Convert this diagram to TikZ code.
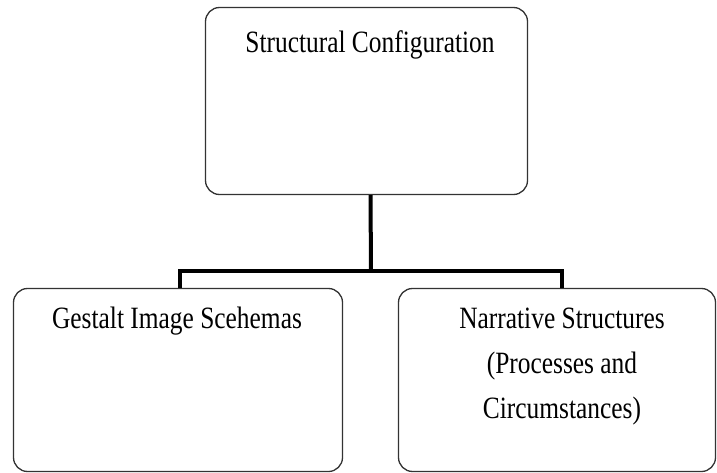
\documentclass[tikz,border=0pt]{standalone}
\usepackage{fontspec}
\setmainfont[FakeStretch=0.82]{Liberation Serif}
\begin{document}
\begin{tikzpicture}[x=1pt, y=-1pt,
    box/.style={draw=black!80, line width=1.3pt, rounded corners=14pt, minimum width=#1, inner sep=0pt},
    txt/.style={font=\fontsize{31}{45}\selectfont, align=center, anchor=base},
    conn/.style={line width=4pt, black}]
  \useasboundingbox (0,0) rectangle (717,473);
  % three boxes
  \node[box=322pt, minimum height=187pt] (cfg) at (366.5,101) {};
  \node[box=329pt, minimum height=183pt] (gest) at (178,380) {};
  \node[box=317pt, minimum height=183pt] (narr) at (557,380) {};
  % labels
  \node[txt] (cfgT) at (370,53) {Structural Configuration};
  \node[txt] (gestT) at (177,328) {Gestalt Image Scehemas};
  \node[txt, anchor=north] (narrT) at (562,304) {Narrative Structures\\(Processes and\\Circumstances)};
  % tree connectors
  \coordinate (bar) at (371,271);
  \draw[conn] ([xshift=4pt]cfg.south) -- (bar);
  \draw[conn] ([xshift=2pt]gest.north) |- (bar) -| ([xshift=5pt]narr.north);
\end{tikzpicture}
\end{document}
